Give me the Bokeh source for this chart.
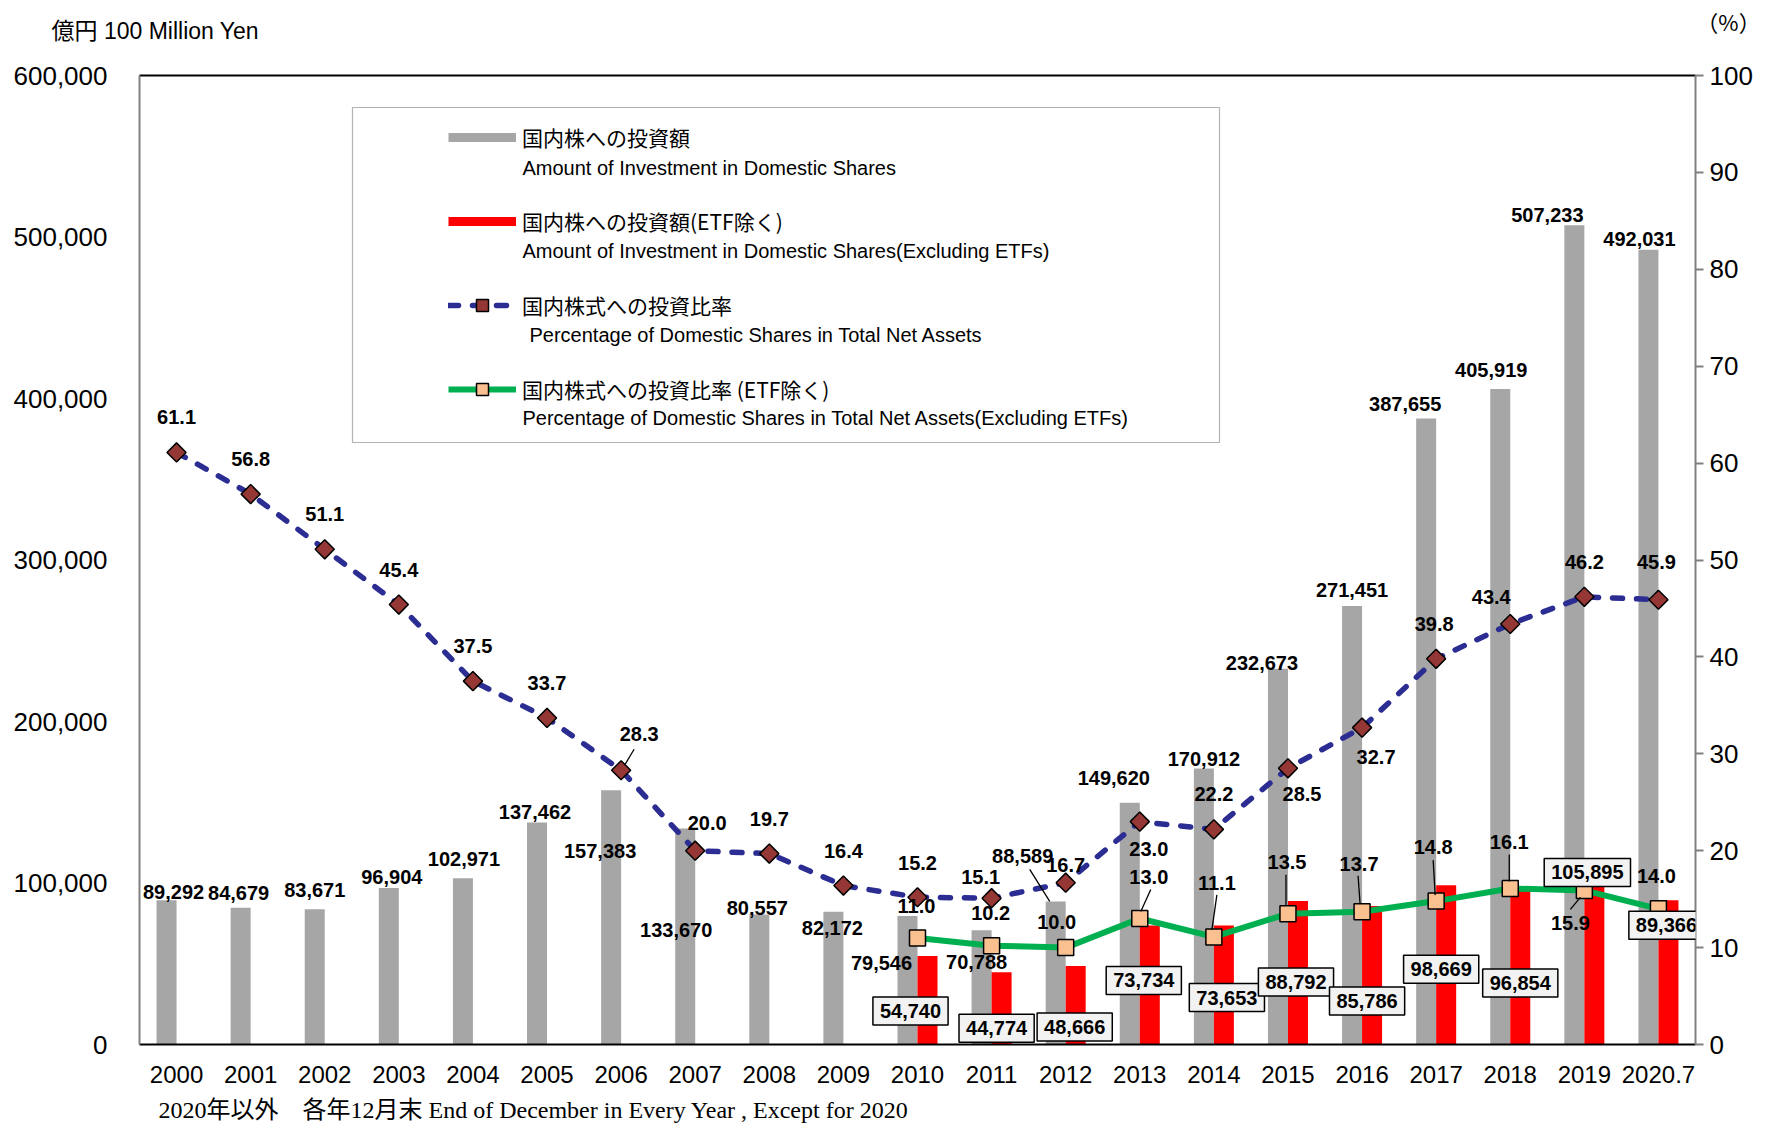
import math
from bokeh.plotting import figure
from bokeh.models import (Range1d, LinearAxis, FixedTicker, Label, Legend, LegendItem,
                          BoxAnnotation, ColumnDataSource, NumeralTickFormatter)
from bokeh.transform import dodge
from bokeh.embed import file_html
from bokeh.resources import INLINE

# ---------------- data ----------------
years = ["2000", "2001", "2002", "2003", "2004", "2005", "2006", "2007", "2008", "2009",
         "2010", "2011", "2012", "2013", "2014", "2015", "2016", "2017", "2018", "2019", "2020.7"]
total_amount = [89292, 84679, 83671, 96904, 102971, 137462, 157383, 133670, 80557, 82172,
                79546, 70788, 88589, 149620, 170912, 232673, 271451, 387655, 405919, 507233, 492031]
etf_years = ["2010", "2011", "2012", "2013", "2014", "2015", "2016", "2017", "2018", "2019", "2020.7"]
excl_amount = [54740, 44774, 48666, 73734, 73653, 88792, 85786, 98669, 96854, 105895, 89366]
pct_total = [61.1, 56.8, 51.1, 45.4, 37.5, 33.7, 28.3, 20.0, 19.7, 16.4,
             15.2, 15.1, 16.7, 23.0, 22.2, 28.5, 32.7, 39.8, 43.4, 46.2, 45.9]
pct_excl = [11.0, 10.2, 10.0, 13.0, 11.1, 13.5, 13.7, 14.8, 16.1, 15.9, 14.0]
amount_ticks = [0, 100000, 200000, 300000, 400000, 500000, 600000]
pct_ticks = [0, 10, 20, 30, 40, 50, 60, 70, 80, 90, 100]

title_left = "億円 100 Million Yen"
title_right = "（%）"
footnote = "2020年以外　各年12月末 End of December in Every Year , Except for 2020"
legend_jp = ["国内株への投資額", "国内株への投資額(ETF除く)",
             "国内株式への投資比率", "国内株式への投資比率 (ETF除く)"]
legend_en = ["Amount of Investment in Domestic Shares",
             "Amount of Investment in Domestic Shares(Excluding ETFs)",
             "Percentage of Domestic Shares in Total Net Assets",
             "Percentage of Domestic Shares in Total Net Assets(Excluding ETFs)"]

# ---------------- layout / style ----------------
FRAME_W, FRAME_H = 1556, 969
B_L, B_R, B_T, B_B = 139, 70, 75, 80
N = len(years)
XPX = FRAME_W / N
AMT_MAX, PCT_MAX = 600000, 100
BAR_W = 0.27

GRAY, RED = "#A6A6A6", "#FF0000"
BLUE, DIAMOND = "#2B2D92", "#953735"
GREEN, SQUARE = "#00B050", "#FAC090"
NUM_FONT = "Liberation Sans"
LBL_FONT = "Liberation Sans"

# label offsets in screen px (dx right, dy up) relative to each mark
gray_off = [(7, 8), (-2, 15), (0, 19), (3, 11), (1, 19), (-2, 10), (-11, -61), (-9, -101),
            (-2, 6), (-1, -16), (-26, -47), (-5, -32), (-33, 45), (-16, 25), (0, 9), (-16, 6),
            (0, 16), (-21, 14), (-9, 19), (-27, 10), (-9, 11)]
red_off = [(-17, -55), (-5, -56), (-1, -61), (-6, -55), (3, -72), (-2, -81), (-5, -95),
           (-5, -84), (0, -95), (-7, 1), (-2, -25)]
blue_off = [(0, 35), (0, 35), (0, 35), (0, 35), (0, 35), (0, 35), (18, 36), (12, 28), (0, 35),
            (0, 35), (0, 34), (-11, 21), (0, 18), (9, -27), (0, 35), (14, -26), (14, -29),
            (-2, 35), (-19, 27), (0, 35), (-2, 38)]
green_off = [(-1, 32), (-1, 33), (-9, 26), (9, 42), (3, 54), (-1, 52), (-3, 48), (-3, 54),
             (-1, 46), (-14, -33), (-2, 33)]
# leader lines: (series, category, start dx, start dy, end dx, end dy) in px
leaders = [("total_pct", "2006", 13, 21, 4, 6),
           ("amount", "2012", -26, 32, -6, 0),
           ("excl_pct", "2013", 11, 29, 1, 7),
           ("excl_pct", "2014", 3, 42, -2, 7),
           ("excl_pct", "2015", -2, 39, -2, 8),
           ("excl_pct", "2016", -4, 36, -2, 8),
           ("excl_pct", "2017", -3, 41, -1, 6),
           ("excl_pct", "2018", -1, 34, -1, 7),
           ("excl_pct", "2019", -14, -19, -4, -7)]


def fx(px):
    return -0.5 + (px - B_L) / XPX


def fy(py):
    return (B_T + FRAME_H - py) / FRAME_H * AMT_MAX


p = figure(frame_width=FRAME_W, frame_height=FRAME_H,
           min_border_left=B_L, min_border_right=B_R, min_border_top=B_T, min_border_bottom=B_B,
           x_range=Range1d(-0.5, N - 0.5), y_range=Range1d(0, AMT_MAX),
           output_backend="svg", toolbar_location=None, title_location=None)
p.extra_y_ranges = {"pct": Range1d(0, PCT_MAX)}
p.outline_line_color = None
p.background_fill_color = "white"
p.border_fill_color = "white"
p.xgrid.visible = False
p.ygrid.visible = False

# bottom axis
xa = p.xaxis[0]
xa.ticker = FixedTicker(ticks=list(range(N)))
xa.major_label_overrides = {i: y for i, y in enumerate(years)}
xa.axis_line_color = "black"
xa.axis_line_width = 2
xa.major_tick_line_color = None
xa.major_tick_in = 0
xa.major_tick_out = 0
xa.minor_tick_line_color = None
xa.major_label_text_font = NUM_FONT
xa.major_label_text_font_size = "24px"
xa.major_label_text_color = "black"
xa.major_label_standoff = 21

# left axis
ya = p.yaxis[0]
ya.ticker = FixedTicker(ticks=amount_ticks)
ya.formatter = NumeralTickFormatter(format="0,0")
ya.axis_line_color = "#808080"
ya.axis_line_width = 2
ya.major_tick_line_color = None
ya.major_tick_in = 0
ya.major_tick_out = 0
ya.minor_tick_line_color = None
ya.major_label_text_font = NUM_FONT
ya.major_label_text_font_size = "26px"
ya.major_label_text_color = "black"
ya.major_label_standoff = 32

# right axis
ra = LinearAxis(y_range_name="pct", ticker=FixedTicker(ticks=pct_ticks))
ra.axis_line_color = "#808080"
ra.axis_line_width = 2
ra.major_tick_line_color = "#808080"
ra.major_tick_line_width = 2
ra.major_tick_in = 0
ra.major_tick_out = 8
ra.minor_tick_line_color = None
ra.major_label_text_font = NUM_FONT
ra.major_label_text_font_size = "26px"
ra.major_label_text_color = "black"
ra.major_label_standoff = 6
p.add_layout(ra, "right")

# top border
ta = LinearAxis(ticker=FixedTicker(ticks=[]))
ta.axis_line_color = "black"
ta.axis_line_width = 2
ta.major_tick_line_color = None
ta.minor_tick_line_color = None
ta.major_label_text_font_size = "0px"
p.add_layout(ta, "above")

# bars
src_total = ColumnDataSource(dict(x=[years.index(y) for y in years], v=total_amount))
src_excl = ColumnDataSource(dict(x=[years.index(y) for y in etf_years], v=excl_amount))
p.vbar(x=dodge("x", -BAR_W / 2, range=p.x_range), top="v", width=BAR_W, source=src_total,
       fill_color=GRAY, line_color=None)
p.vbar(x=dodge("x", BAR_W / 2, range=p.x_range), top="v", width=BAR_W, source=src_excl,
       fill_color=RED, line_color=None)

# lines
src_pct = ColumnDataSource(dict(x=[years.index(y) for y in years], v=pct_total))
src_pex = ColumnDataSource(dict(x=[years.index(y) for y in etf_years], v=pct_excl))
blue_line = p.line("x", "v", source=src_pct, y_range_name="pct", line_color=BLUE,
                   line_width=5.5, line_dash="10 14", line_cap="round")
blue_mark = p.scatter("x", "v", source=src_pct, y_range_name="pct", marker="square",
                      angle=math.pi / 4, size=13.5, fill_color=DIAMOND, line_color="black",
                      line_width=1.5)
green_line = p.line("x", "v", source=src_pex, y_range_name="pct", line_color=GREEN,
                    line_width=6)
green_mark = p.scatter("x", "v", source=src_pex, y_range_name="pct", marker="square",
                       size=16, fill_color=SQUARE, line_color="black", line_width=1.5)

# leader lines
seg = dict(x0=[], y0=[], x1=[], y1=[])
for series, yr, sdx, sdy, edx, edy in leaders:
    if series == "amount":
        i = years.index(yr)
        bx = i - BAR_W / 2
        by = total_amount[i] / AMT_MAX * PCT_MAX
    elif series == "total_pct":
        i = years.index(yr)
        bx, by = i, pct_total[i]
    else:
        bx = years.index(yr)
        by = pct_excl[etf_years.index(yr)]
    seg["x0"].append(bx + sdx / XPX)
    seg["y0"].append(by + sdy / FRAME_H * PCT_MAX)
    seg["x1"].append(bx + edx / XPX)
    seg["y1"].append(by + edy / FRAME_H * PCT_MAX)
p.segment("x0", "y0", "x1", "y1", source=ColumnDataSource(seg), y_range_name="pct",
          line_color="black", line_width=1.3)


def add_label(x, y, text, off, rng=None, box=False):
    kw = dict(x=x, y=y, x_offset=off[0], y_offset=off[1], text=text, text_font=LBL_FONT,
              text_font_size="20px", text_font_style="bold", text_align="center",
              text_baseline="middle", text_color="black")
    if rng:
        kw["y_range_name"] = rng
    if box:
        kw.update(background_fill_color="#F2F2F2", border_line_color="black",
                  border_line_width=1.5, padding=7)
    p.add_layout(Label(**kw))


for i, y in enumerate(years):
    add_label(i - BAR_W / 2, total_amount[i], f"{total_amount[i]:,}", gray_off[i])
    add_label(i, pct_total[i], f"{pct_total[i]:.1f}", blue_off[i], rng="pct")
for j, y in enumerate(etf_years):
    i = years.index(y)
    add_label(i, pct_excl[j], f"{pct_excl[j]:.1f}", green_off[j], rng="pct")
    add_label(i + BAR_W / 2, excl_amount[j], f"{excl_amount[j]:,}", red_off[j], box=True)

# legend box
p.add_layout(BoxAnnotation(left=fx(352), right=fx(1219), top=fy(107), bottom=fy(442),
                           fill_color="white", fill_alpha=1.0, line_color="black",
                           line_width=1.2))
gray_dummy = p.line(x=[float("nan")], y=[float("nan")], line_color=GRAY, line_width=9)
red_dummy = p.line(x=[float("nan")], y=[float("nan")], line_color=RED, line_width=9)
legend = Legend(items=[LegendItem(label=legend_jp[0], renderers=[gray_dummy]),
                       LegendItem(label=legend_jp[1], renderers=[red_dummy]),
                       LegendItem(label=legend_jp[2], renderers=[blue_line, blue_mark]),
                       LegendItem(label=legend_jp[3], renderers=[green_line, green_mark])],
                location=(309, 639), orientation="vertical", padding=0, margin=0,
                spacing=52, label_height=32, glyph_height=30, glyph_width=68,
                label_standoff=6, label_text_font="Noto Sans CJK JP",
                label_text_font_size="21px", label_text_color="black",
                background_fill_alpha=0, border_line_color=None)
p.add_layout(legend)

en_x = [522, 522, 529, 522]
en_y = [167, 250, 334, 417]
for k, t in enumerate(legend_en):
    p.add_layout(Label(x=fx(en_x[k]), y=fy(en_y[k]), text=t,
                       text_font="Liberation Sans", text_font_size="20px",
                       text_align="left", text_baseline="middle", text_color="black"))

# outer texts (placed in side panels so they are not clipped to the frame)
p.add_layout(Label(x=fx(51), y=fy(30), text=title_left,
                   text_font="Liberation Sans, Noto Sans CJK JP", text_font_size="23px",
                   text_align="left", text_baseline="middle", text_color="black"), "above")
p.add_layout(Label(x=fx(1728), y=fy(20), text=title_right,
                   text_font="Noto Sans CJK JP", text_font_size="22px",
                   text_align="center", text_baseline="middle", text_color="black"), "above")
p.add_layout(Label(x=fx(158), y=fy(1109), text=footnote,
                   text_font="Liberation Serif, Noto Sans CJK JP", text_font_size="24px",
                   text_align="left", text_baseline="middle", text_color="black"), "below")

open("out.html", "w").write(file_html(p, INLINE))
